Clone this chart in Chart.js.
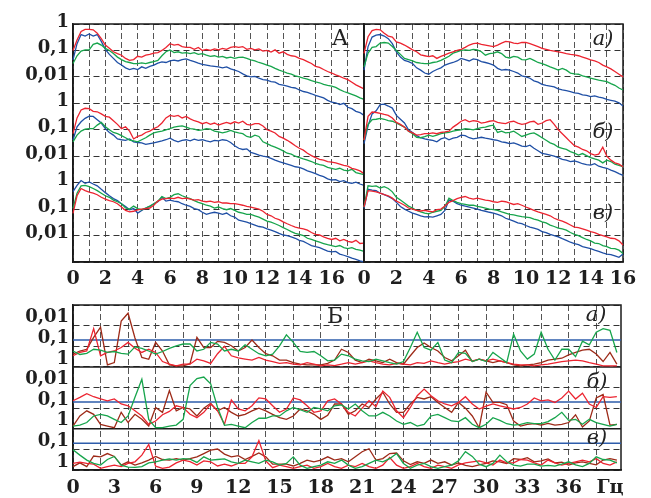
<!DOCTYPE html>
<html lang="ru">
<head>
<meta charset="utf-8">
<title>Спектры и уровни значимости</title>
<script src="https://cdn.jsdelivr.net/npm/chart.js@4.4.1/dist/chart.umd.min.js"></script>
<style>
  html, body { margin: 0; padding: 0; background: #fff; }
  #fig { position: relative; width: 651px; height: 498px; overflow: hidden; }
  #fig canvas { position: absolute; }
</style>
</head>
<body>
<div id="fig">
  <canvas id="topLeft" width="372" height="296" style="left:0;top:0"></canvas>
  <canvas id="topRight" width="321" height="296" style="left:330px;top:0"></canvas>
  <canvas id="bottom" width="651" height="208" style="left:0;top:290px"></canvas>
</div>
<script>
// frequencies, Hz
const freqTop = [0,0.25,0.5,0.75,1,1.25,1.5,1.75,2,2.25,2.5,2.75,3,3.25,3.5,3.75,4,4.25,4.5,4.75,5,5.25,5.5,5.75,6,6.25,6.5,6.75,7,7.25,7.5,7.75,8,8.25,8.5,8.75,9,9.25,9.5,9.75,10,10.25,10.5,10.75,11,11.25,11.5,11.75,12,12.25,12.5,12.75,13,13.25,13.5,13.75,14,14.25,14.5,14.75,15,15.25,15.5,15.75,16,16.25,16.5,16.75,17,17.25,17.5,17.75,18];
const freqBottom = [0,0.5,1,1.5,2,2.5,3,3.5,4,4.5,5,5.5,6,6.5,7,7.5,8,8.5,9,9.5,10,10.5,11,11.5,12,12.5,13,13.5,14,14.5,15,15.5,16,16.5,17,17.5,18,18.5,19,19.5,20,20.5,21,21.5,22,22.5,23,23.5,24,24.5,25,25.5,26,26.5,27,27.5,28,28.5,29,29.5,30,30.5,31,31.5,32,32.5,33,33.5,34,34.5,35,35.5,36,36.5,37,37.5,38,38.5,39,39.5];

// tick labels
const topXTickValues = [0, 2, 4, 6, 8, 10, 12, 14, 16];
const topXTickLabels = ['0', '2', '4', '6', '8', '10', '12', '14', '16'];
const topYTickValues = [1, 0.1, 0.01];
const topYTickLabels = ['1', '0,1', '0,01'];
const bottomXTickValues = [0, 3, 6, 9, 12, 15, 18, 21, 24, 27, 30, 33, 36, 39];
const bottomXTickLabels = ['0', '3', '6', '9', '12', '15', '18', '21', '24', '27', '30', '33', '36', 'Гц'];
const bottomXGridValues = [0, 2, 4, 6, 8, 10, 12, 14, 16, 18, 20, 22, 24, 26, 28, 30, 32, 34, 36, 38];
const bottomYTickValues = [0.01, 0.1, 1];
const bottomYTickLabels = ['0,01', '0,1', '1'];

// significance level line (Б)
const sigFreq = [0, 39.8];
const sigLevel = [0.05, 0.05];

// А, left column, rows а) б) в)
const redL1 = [0.1,0.25,0.52,0.63,0.63,0.6,0.45,0.28,0.16,0.12,0.089,0.076,0.066,0.05,0.042,0.045,0.06,0.056,0.066,0.071,0.079,0.083,0.1,0.13,0.18,0.16,0.17,0.14,0.13,0.13,0.11,0.13,0.1,0.11,0.1,0.115,0.105,0.12,0.11,0.13,0.14,0.13,0.14,0.11,0.12,0.105,0.115,0.095,0.1,0.087,0.105,0.079,0.089,0.071,0.063,0.06,0.05,0.045,0.038,0.032,0.025,0.023,0.019,0.016,0.014,0.012,0.0105,0.0089,0.0079,0.0063,0.005,0.0042,0.0035];
const greenL1 = [0.032,0.063,0.095,0.105,0.105,0.17,0.19,0.16,0.12,0.1,0.076,0.056,0.045,0.038,0.035,0.032,0.032,0.034,0.032,0.035,0.038,0.042,0.063,0.089,0.105,0.083,0.089,0.079,0.083,0.076,0.083,0.071,0.076,0.066,0.06,0.063,0.056,0.06,0.052,0.056,0.05,0.055,0.056,0.05,0.044,0.04,0.035,0.032,0.028,0.025,0.021,0.018,0.016,0.014,0.0126,0.011,0.01,0.0089,0.0083,0.0072,0.0065,0.006,0.0052,0.0048,0.0045,0.004,0.0033,0.0028,0.0025,0.0022,0.0019,0.0016,0.0014];
const blueL1 = [0.044,0.18,0.4,0.35,0.42,0.35,0.4,0.22,0.11,0.071,0.05,0.035,0.028,0.022,0.019,0.021,0.019,0.024,0.021,0.025,0.028,0.033,0.037,0.035,0.04,0.043,0.04,0.045,0.048,0.042,0.038,0.033,0.03,0.028,0.026,0.025,0.024,0.022,0.024,0.02,0.018,0.016,0.013,0.011,0.01,0.0105,0.0089,0.0079,0.0076,0.0066,0.0063,0.0052,0.0049,0.0045,0.004,0.0038,0.0032,0.0028,0.0026,0.0023,0.002,0.0018,0.0016,0.0013,0.0011,0.00105,0.00089,0.001,0.00071,0.00063,0.0005,0.00045,0.00035];
const redL2 = [0.072,0.28,0.56,0.65,0.63,0.5,0.48,0.4,0.32,0.3,0.22,0.16,0.11,0.13,0.089,0.045,0.056,0.063,0.079,0.089,0.11,0.13,0.18,0.28,0.35,0.32,0.35,0.28,0.32,0.26,0.22,0.2,0.17,0.19,0.16,0.18,0.15,0.17,0.19,0.17,0.2,0.18,0.21,0.16,0.15,0.17,0.17,0.14,0.1,0.089,0.076,0.056,0.048,0.04,0.032,0.025,0.02,0.017,0.013,0.0105,0.0089,0.0076,0.0071,0.0063,0.006,0.0056,0.005,0.0045,0.0042,0.0035,0.0032,0.0028,0.0022];
const greenL2 = [0.035,0.063,0.089,0.105,0.11,0.11,0.15,0.19,0.13,0.1,0.079,0.071,0.06,0.05,0.041,0.038,0.035,0.042,0.05,0.063,0.076,0.083,0.089,0.1,0.11,0.126,0.135,0.14,0.126,0.11,0.105,0.095,0.1,0.11,0.105,0.089,0.083,0.076,0.083,0.095,0.083,0.076,0.071,0.056,0.052,0.063,0.056,0.035,0.03,0.025,0.022,0.019,0.016,0.013,0.012,0.01,0.0089,0.0079,0.0071,0.0063,0.0054,0.0048,0.0045,0.0038,0.0035,0.0032,0.0035,0.003,0.0028,0.0032,0.0024,0.0022,0.002];
const blueL2 = [0.041,0.13,0.2,0.27,0.33,0.32,0.24,0.18,0.11,0.079,0.063,0.045,0.042,0.04,0.045,0.035,0.033,0.032,0.028,0.03,0.032,0.035,0.038,0.042,0.048,0.04,0.035,0.04,0.042,0.038,0.044,0.04,0.042,0.038,0.035,0.04,0.038,0.042,0.04,0.033,0.025,0.02,0.018,0.019,0.014,0.0126,0.011,0.01,0.0095,0.0083,0.0071,0.0063,0.0056,0.005,0.0045,0.004,0.0038,0.0033,0.0028,0.0025,0.0022,0.0019,0.0017,0.0014,0.00126,0.0013,0.0011,0.0012,0.001,0.00095,0.00105,0.00089,0.00079];
const redL3 = [0.069,0.32,0.6,0.5,0.44,0.4,0.35,0.28,0.24,0.21,0.19,0.16,0.12,0.089,0.079,0.083,0.093,0.1,0.105,0.11,0.14,0.2,0.24,0.25,0.26,0.25,0.28,0.25,0.26,0.24,0.22,0.23,0.2,0.19,0.2,0.18,0.19,0.17,0.17,0.16,0.16,0.15,0.14,0.126,0.12,0.11,0.1,0.083,0.063,0.056,0.045,0.04,0.033,0.028,0.024,0.021,0.019,0.018,0.016,0.013,0.011,0.0105,0.0089,0.0079,0.0071,0.0079,0.0063,0.0071,0.006,0.0056,0.0066,0.005,0.0052];
const greenL3 = [0.107,0.4,0.76,0.79,0.71,0.6,0.5,0.4,0.32,0.28,0.22,0.19,0.16,0.11,0.1,0.13,0.105,0.095,0.11,0.13,0.16,0.2,0.3,0.25,0.28,0.35,0.38,0.32,0.28,0.25,0.21,0.18,0.16,0.14,0.13,0.11,0.12,0.105,0.095,0.105,0.089,0.076,0.071,0.063,0.063,0.056,0.05,0.042,0.035,0.032,0.028,0.024,0.02,0.017,0.014,0.012,0.011,0.01,0.0079,0.0071,0.0063,0.0056,0.005,0.0045,0.0042,0.0038,0.0042,0.0035,0.0032,0.0035,0.003,0.0028,0.0025];
const blueL3 = [0.46,0.79,1.2,0.95,1.07,0.89,0.76,0.56,0.42,0.32,0.25,0.21,0.16,0.126,0.095,0.105,0.071,0.089,0.11,0.126,0.16,0.19,0.28,0.2,0.22,0.2,0.19,0.16,0.14,0.126,0.105,0.095,0.076,0.063,0.071,0.076,0.071,0.063,0.071,0.056,0.05,0.038,0.035,0.032,0.028,0.025,0.022,0.021,0.018,0.016,0.014,0.012,0.0105,0.01,0.0089,0.0079,0.0066,0.006,0.005,0.0042,0.0038,0.0035,0.003,0.0026,0.0024,0.0025,0.002,0.0018,0.0016,0.0014,0.00126,0.0011,0.001];

// А, right column, rows а) б) в)
const redR1 = [0.078,0.33,0.56,0.63,0.6,0.45,0.35,0.32,0.21,0.19,0.16,0.13,0.105,0.089,0.068,0.063,0.058,0.063,0.05,0.06,0.068,0.079,0.089,0.1,0.11,0.13,0.16,0.18,0.19,0.17,0.16,0.15,0.14,0.16,0.19,0.22,0.21,0.19,0.18,0.2,0.2,0.18,0.16,0.14,0.12,0.11,0.1,0.095,0.089,0.083,0.076,0.071,0.068,0.063,0.056,0.05,0.044,0.04,0.035,0.028,0.024,0.02,0.016,0.0126,0.01];
const greenR1 = [0.024,0.079,0.13,0.14,0.19,0.2,0.19,0.14,0.1,0.071,0.05,0.045,0.04,0.035,0.033,0.032,0.032,0.035,0.037,0.042,0.05,0.06,0.079,0.089,0.1,0.105,0.1,0.11,0.105,0.089,0.066,0.076,0.079,0.089,0.076,0.056,0.052,0.06,0.056,0.045,0.044,0.05,0.042,0.035,0.032,0.028,0.024,0.021,0.018,0.021,0.018,0.014,0.013,0.0126,0.011,0.01,0.0089,0.0083,0.0076,0.0071,0.0066,0.0056,0.0048,0.0038,0.0032];
const blueR1 = [0.018,0.14,0.32,0.38,0.4,0.35,0.28,0.18,0.089,0.056,0.042,0.038,0.032,0.022,0.018,0.014,0.0126,0.016,0.019,0.022,0.028,0.032,0.035,0.04,0.05,0.045,0.04,0.048,0.045,0.038,0.035,0.032,0.028,0.021,0.018,0.019,0.018,0.016,0.014,0.011,0.01,0.0089,0.0071,0.0063,0.0052,0.0048,0.0045,0.0042,0.0035,0.0032,0.003,0.0028,0.0025,0.0024,0.0021,0.002,0.0018,0.0019,0.0017,0.0016,0.0014,0.0013,0.0012,0.00105,0.00079];
const redR2 = [0.041,0.32,0.47,0.45,0.42,0.38,0.35,0.28,0.19,0.16,0.126,0.089,0.076,0.063,0.066,0.071,0.071,0.076,0.071,0.079,0.083,0.089,0.126,0.16,0.21,0.24,0.2,0.22,0.21,0.18,0.19,0.21,0.22,0.19,0.18,0.17,0.2,0.21,0.18,0.16,0.17,0.2,0.21,0.16,0.18,0.22,0.24,0.16,0.1,0.071,0.05,0.035,0.025,0.022,0.018,0.016,0.0126,0.011,0.012,0.022,0.01,0.0071,0.0056,0.005,0.004];
const greenR2 = [0.041,0.16,0.24,0.25,0.27,0.25,0.22,0.21,0.18,0.15,0.126,0.089,0.071,0.052,0.05,0.055,0.063,0.056,0.063,0.071,0.076,0.079,0.089,0.095,0.1,0.11,0.105,0.1,0.11,0.12,0.126,0.14,0.15,0.079,0.089,0.076,0.079,0.089,0.071,0.056,0.063,0.071,0.076,0.063,0.05,0.04,0.032,0.028,0.022,0.02,0.018,0.015,0.013,0.011,0.0126,0.0105,0.0089,0.0079,0.0071,0.0056,0.0071,0.0063,0.005,0.0045,0.004];
const blueR2 = [0.03,0.14,0.4,0.52,0.89,0.93,0.79,0.66,0.35,0.25,0.18,0.1,0.079,0.06,0.05,0.045,0.042,0.04,0.035,0.045,0.05,0.042,0.048,0.052,0.063,0.06,0.05,0.045,0.048,0.052,0.048,0.045,0.042,0.04,0.035,0.033,0.03,0.032,0.028,0.024,0.023,0.026,0.02,0.016,0.0129,0.012,0.011,0.01,0.0089,0.0076,0.0071,0.0063,0.0066,0.006,0.0052,0.0048,0.0046,0.0052,0.0042,0.0038,0.0035,0.003,0.0026,0.0022,0.0019];
const redR3 = [0.12,0.5,0.48,0.45,0.4,0.35,0.32,0.26,0.2,0.17,0.14,0.11,0.1,0.089,0.085,0.089,0.083,0.079,0.095,0.1,0.13,0.18,0.21,0.25,0.28,0.3,0.26,0.24,0.26,0.24,0.22,0.21,0.19,0.18,0.2,0.19,0.17,0.15,0.16,0.14,0.12,0.105,0.089,0.079,0.071,0.063,0.056,0.045,0.039,0.035,0.03,0.025,0.021,0.02,0.018,0.016,0.014,0.013,0.011,0.01,0.0089,0.0079,0.0076,0.0063,0.0044];
const greenR3 = [0.12,0.76,0.72,0.76,0.63,0.71,0.6,0.45,0.28,0.22,0.17,0.13,0.11,0.089,0.079,0.071,0.066,0.076,0.083,0.089,0.126,0.26,0.21,0.18,0.16,0.15,0.14,0.14,0.126,0.12,0.11,0.1,0.095,0.089,0.079,0.071,0.063,0.06,0.056,0.052,0.05,0.048,0.042,0.038,0.033,0.03,0.025,0.022,0.019,0.018,0.016,0.013,0.011,0.01,0.0083,0.0071,0.0063,0.0052,0.005,0.0042,0.0038,0.0033,0.0032,0.0028,0.0021];
const blueR3 = [0.107,0.56,0.52,0.5,0.4,0.35,0.3,0.25,0.18,0.126,0.1,0.083,0.071,0.063,0.056,0.051,0.052,0.05,0.056,0.063,0.089,0.22,0.2,0.16,0.14,0.13,0.12,0.11,0.1,0.089,0.083,0.076,0.071,0.063,0.056,0.045,0.04,0.035,0.03,0.028,0.024,0.021,0.019,0.017,0.014,0.013,0.011,0.01,0.0089,0.0076,0.0066,0.0056,0.005,0.0045,0.0038,0.0035,0.0032,0.0028,0.0025,0.0022,0.002,0.0019,0.0017,0.0015,0.002];

// Б, p-values, rows а) б) в)
const redB1 = [0.29,0.2,0.17,0.014,0.29,0.2,0.17,0.115,0.065,0.126,0.2,0.14,0.2,0.55,0.74,0.89,0.74,0.74,0.42,0.51,0.68,0.23,0.1,0.29,0.37,0.42,0.47,0.35,0.47,0.55,0.68,0.62,0.74,0.8,0.62,0.74,0.89,0.8,0.86,0.74,0.62,0.74,0.62,0.51,0.62,0.74,0.8,0.68,0.74,0.8,0.62,0.68,0.51,0.62,0.74,0.62,0.55,0.42,0.51,0.42,0.51,0.42,0.51,0.62,0.74,0.8,0.8,0.89,0.8,0.74,0.64,0.55,0.51,0.47,0.51,0.62,0.74,0.89,0.89,0.89];
const brownB1 = [0.24,0.17,0.14,0.037,0.012,0.8,0.62,0.006,0.0025,0.04,0.35,0.43,0.065,0.17,0.8,0.89,0.89,0.7,0.037,0.115,0.115,0.058,0.065,0.095,0.17,0.115,0.05,0.115,0.23,0.29,0.47,0.47,0.62,0.74,0.8,0.8,0.8,0.68,0.47,0.14,0.2,0.47,0.62,0.42,0.51,0.62,0.42,0.62,0.74,0.29,0.115,0.07,0.115,0.17,0.35,0.51,0.29,0.155,0.55,0.42,0.51,0.62,0.51,0.62,0.8,0.89,0.8,0.74,0.62,0.47,0.42,0.38,0.26,0.2,0.155,0.14,0.24,0.55,0.2,0.74];
const greenB1 = [0.17,0.25,0.22,0.14,0.155,0.2,0.18,0.22,0.24,0.107,0.126,0.17,0.24,0.18,0.126,0.095,0.078,0.078,0.17,0.14,0.065,0.078,0.17,0.14,0.17,0.085,0.14,0.23,0.29,0.24,0.095,0.028,0.065,0.18,0.2,0.18,0.29,0.51,0.47,0.24,0.29,0.42,0.51,0.55,0.42,0.51,0.62,0.74,0.55,0.115,0.021,0.115,0.155,0.065,0.47,0.62,0.2,0.22,0.55,0.42,0.55,0.2,0.35,0.62,0.026,0.17,0.42,0.24,0.021,0.14,0.47,0.14,0.14,0.32,0.057,0.085,0.021,0.014,0.017,0.2];
const redB2 = [0.044,0.03,0.02,0.028,0.036,0.044,0.036,0.063,0.077,0.135,0.24,0.61,0.42,0.21,0.145,0.077,0.093,0.2,0.29,0.16,0.063,0.135,0.61,0.04,0.11,0.135,0.077,0.032,0.036,0.077,0.16,0.11,0.032,0.04,0.077,0.16,0.135,0.044,0.036,0.063,0.16,0.24,0.1,0.044,0.085,0.015,0.03,0.135,0.29,0.093,0.025,0.012,0.025,0.044,0.063,0.077,0.053,0.028,0.063,0.11,0.08,0.063,0.077,0.093,0.11,0.093,0.063,0.032,0.044,0.04,0.053,0.032,0.015,0.036,0.019,0.063,0.093,0.028,0.03,0.028];
const brownB2 = [0.74,0.24,0.135,0.2,0.61,0.74,0.89,0.16,0.5,0.2,0.35,0.74,0.093,0.16,0.014,0.135,0.093,0.11,0.24,0.1,0.058,0.135,0.093,0.16,0.24,0.2,0.135,0.1,0.135,0.2,0.29,0.35,0.24,0.11,0.135,0.2,0.35,0.22,0.063,0.063,0.2,0.135,0.063,0.093,0.036,0.017,0.063,0.16,0.16,0.063,0.03,0.036,0.028,0.053,0.093,0.16,0.053,0.1,0.24,0.89,0.017,0.053,0.053,0.068,0.42,0.74,0.61,0.57,0.66,0.55,0.66,0.61,0.5,0.21,0.83,0.42,0.032,0.022,0.66,0.61];
const greenB2 = [0.74,0.66,0.5,0.24,0.2,0.24,0.35,0.5,0.24,0.03,0.004,0.35,0.89,0.89,0.74,0.66,0.35,0.008,0.0037,0.0031,0.0066,0.093,0.68,0.61,0.74,0.89,0.5,0.31,0.31,0.24,0.24,0.135,0.093,0.12,0.16,0.093,0.11,0.135,0.077,0.07,0.11,0.063,0.135,0.24,0.24,0.16,0.24,0.42,0.61,0.5,0.74,0.61,0.24,0.2,0.29,0.42,0.45,0.29,0.61,0.89,0.61,0.29,0.39,0.57,0.66,0.61,0.5,0.57,0.57,0.45,0.29,0.16,0.39,0.35,0.61,0.35,0.5,0.61,0.74,0.61];
const redB3 = [0.48,0.42,0.48,0.52,0.83,0.69,0.58,0.69,0.48,0.4,0.19,0.058,0.65,0.83,0.72,0.45,0.33,0.39,0.58,0.36,0.4,0.64,0.52,0.64,0.48,0.48,0.23,0.037,0.36,0.77,0.58,0.69,0.83,0.69,0.58,0.83,0.69,0.48,0.69,0.83,0.58,0.69,0.48,0.69,0.83,0.58,0.25,0.58,0.83,0.69,0.48,0.69,0.83,0.58,0.69,0.83,0.56,0.45,0.4,0.36,0.45,0.58,0.33,0.45,0.45,0.31,0.33,0.45,0.58,0.33,0.45,0.58,0.48,0.4,0.33,0.4,0.28,0.48,0.58,0.4];
const brownB3 = [0.69,0.45,0.69,0.21,0.23,0.16,0.22,0.58,0.4,0.58,0.45,0.33,0.22,0.31,0.33,0.28,0.33,0.28,0.23,0.16,0.11,0.096,0.17,0.23,0.2,0.31,0.22,0.15,0.23,0.52,0.52,0.52,0.64,0.48,0.33,0.4,0.33,0.23,0.33,0.28,0.4,0.23,0.13,0.093,0.33,0.28,0.16,0.15,0.36,0.55,0.4,0.48,0.33,0.48,0.4,0.58,0.45,0.6,0.69,0.56,0.48,0.36,0.4,0.48,0.28,0.31,0.25,0.4,0.36,0.29,0.45,0.42,0.58,0.45,0.4,0.48,0.56,0.33,0.28,0.33];
const greenB3 = [0.104,0.19,0.33,0.48,0.58,0.31,0.22,0.58,0.72,0.75,0.69,0.45,0.4,0.33,0.29,0.33,0.28,0.3,0.43,0.23,0.33,0.31,0.29,0.4,0.48,0.33,0.4,0.48,0.33,0.4,0.58,0.48,0.23,0.58,0.83,0.69,0.58,0.4,0.48,0.33,0.58,0.83,0.69,0.48,0.33,0.4,0.28,0.16,0.48,0.83,0.58,0.48,0.69,0.83,0.69,0.58,0.36,0.13,0.22,0.52,0.69,0.48,0.19,0.4,0.58,0.65,0.52,0.52,0.65,0.6,0.65,0.52,0.4,0.56,0.69,0.48,0.23,0.31,0.33,0.45];

Chart.defaults.font.family = '"DejaVu Serif", serif';
Chart.defaults.color = '#1e1e1e';

const RED = '#ec2430', GREEN = '#17a54c', BLUE = '#1f4fa5', BROWN = '#9d2a18', SIG = '#2d5cab';
const INK = '#1a1a1a';
const tickFontY = { size: 18, weight: 'bold' };
const tickFontX = { size: 19, weight: 'bold' };

function pts(freq, vals) { return vals.map((v, i) => ({ x: freq[i], y: v })); }
function line(freq, vals, color, axis) {
  return { data: pts(freq, vals), yAxisID: axis, borderColor: color, borderWidth: 1.3,
           pointRadius: 0, tension: 0, fill: false, clip: false };
}
function labeler(values, labels) {
  return v => { const i = values.indexOf(v); return i < 0 ? '' : labels[i]; };
}

// frame, solid row separators and the panel letters
const notes = {
  id: 'notes',
  beforeDatasetsDraw(chart, args, opts) {
    const { ctx, chartArea: a } = chart;
    ctx.save();
    ctx.strokeStyle = INK;
    ctx.lineWidth = 1.5;
    (opts.rowLines || []).forEach(id => {
      const y = chart.scales[id].top;
      ctx.beginPath(); ctx.moveTo(a.left, y); ctx.lineTo(a.right, y); ctx.stroke();
    });
    ctx.strokeRect(a.left, a.top, a.right - a.left, a.bottom - a.top);
    ctx.restore();
  },
  afterDraw(chart, args, opts) {
    const ctx = chart.ctx;
    ctx.save();
    ctx.fillStyle = '#222';
    ctx.textAlign = 'center';
    ctx.textBaseline = 'middle';
    (opts.texts || []).forEach(t => { ctx.font = t.font; ctx.fillText(t.text, t.x, t.y); });
    ctx.restore();
  }
};

function topChart(canvasId, xMax, rows, withLabels, padding, texts) {
  const ids = ['r1', 'r2', 'r3'];
  const scales = {
    x: {
      type: 'linear', min: 0, max: xMax,
      ticks: { stepSize: 1, autoSkip: false, maxRotation: 0, padding: 6, font: tickFontX,
               callback: labeler(topXTickValues, topXTickLabels) },
      grid: { color: '#555', lineWidth: 1, drawTicks: false },
      border: { color: INK, width: 1.5, dash: [6, 3] },
      afterFit: s => { s.height = 34; }
    }
  };
  ids.forEach((id, r) => {
    scales[id] = {
      type: 'logarithmic', position: 'left', stack: 'rows', stackWeight: 1, weight: 3 - r,
      min: 0.001, max: 1,
      afterBuildTicks: s => { s.ticks = [0.001].concat(topYTickValues).map(v => ({ value: v })); },
      ticks: { display: withLabels, autoSkip: false, padding: 4, labelOffset: -2, font: tickFontY,
               callback: labeler(topYTickValues, topYTickLabels) },
      grid: { color: '#333', lineWidth: 1, drawTicks: false },
      border: { color: INK, width: 1.5, dash: [6, 4] },
      afterFit: s => { s.width = withLabels ? 73 : 0; }
    };
  });
  const datasets = [];
  rows.forEach((row, r) => {
    datasets.push(line(freqTop, row[0], RED, ids[r]));
    datasets.push(line(freqTop, row[1], GREEN, ids[r]));
    datasets.push(line(freqTop, row[2], BLUE, ids[r]));
  });
  return new Chart(document.getElementById(canvasId), {
    type: 'line',
    data: { datasets },
    options: {
      responsive: false, animation: false,
      layout: { padding },
      plugins: { legend: { display: false }, tooltip: { enabled: false }, notes: { texts } },
      scales
    },
    plugins: [notes]
  });
}

topChart('topLeft', 18,
  [[redL1, greenL1, blueL1], [redL2, greenL2, blueL2], [redL3, greenL3, blueL3]],
  true, { top: 24, right: 8, left: 0, bottom: 0 },
  [{ text: 'А', x: 340, y: 39, font: '22px "DejaVu Serif"' }]);

topChart('topRight', 16,
  [[redR1, greenR1, blueR1], [redR2, greenR2, blueR2], [redR3, greenR3, blueR3]],
  false, { top: 24, right: 28, left: 34, bottom: 0 },
  [{ text: 'а)', x: 273, y: 40, font: 'italic 21px "DejaVu Serif"' },
   { text: 'б)', x: 273, y: 133, font: 'italic 21px "DejaVu Serif"' },
   { text: 'в)', x: 273, y: 214, font: 'italic 21px "DejaVu Serif"' }]);

// Б
(function () {
  const rows = [
    { id: 'b1', stackWeight: 3, min: 0.001, series: [redB1, brownB1, greenB1] },
    { id: 'b2', stackWeight: 3, min: 0.001, series: [redB2, brownB2, greenB2] },
    { id: 'b3', stackWeight: 2, min: 0.01, series: [redB3, brownB3, greenB3] }
  ];
  const scales = {
    x: {
      type: 'linear', min: 0, max: 39.8,
      afterBuildTicks: s => {
        const vals = Array.from(new Set(bottomXGridValues.concat(bottomXTickValues))).sort((a, b) => a - b);
        s.ticks = vals.map(v => ({ value: v }));
      },
      ticks: { autoSkip: false, maxRotation: 0, padding: 7, font: tickFontX,
               callback: labeler(bottomXTickValues, bottomXTickLabels) },
      grid: { color: c => (c.tick && bottomXGridValues.includes(c.tick.value)) ? '#555' : 'rgba(0,0,0,0)',
              lineWidth: 1, drawTicks: false },
      border: { color: INK, width: 1.5, dash: [6, 3] },
      afterFit: s => { s.height = 28; }
    }
  };
  const datasets = [];
  rows.forEach((row, r) => {
    scales[row.id] = {
      type: 'logarithmic', position: 'left', reverse: true, stack: 'rows',
      stackWeight: row.stackWeight, weight: 3 - r, min: row.min, max: 1,
      afterBuildTicks: s => {
        s.ticks = [row.min].concat(bottomYTickValues.filter(v => v > row.min)).map(v => ({ value: v }));
      },
      ticks: { autoSkip: false, padding: 4, labelOffset: -8, font: tickFontY,
               callback: v => v === row.min ? '' : labeler(bottomYTickValues, bottomYTickLabels)(v) },
      grid: { color: '#333', lineWidth: 1, drawTicks: false },
      border: { color: INK, width: 1.5, dash: [6, 4] },
      afterFit: s => { s.width = 73; }
    };
    datasets.push(line(freqBottom, row.series[2], GREEN, row.id));
    datasets.push(line(freqBottom, row.series[0], RED, row.id));
    datasets.push(line(freqBottom, row.series[1], BROWN, row.id));
    const sig = line(sigFreq, sigLevel, SIG, row.id);
    sig.borderWidth = 1.5;
    datasets.push(sig);
  });
  new Chart(document.getElementById('bottom'), {
    type: 'line',
    data: { datasets },
    options: {
      responsive: false, animation: false,
      layout: { padding: { top: 15, right: 30, left: 0, bottom: 0 } },
      plugins: {
        legend: { display: false }, tooltip: { enabled: false },
        notes: {
          rowLines: ['b2', 'b3'],
          texts: [
            { text: 'Б', x: 335, y: 27, font: '22px "DejaVu Serif"' },
            { text: 'а)', x: 596, y: 26, font: 'italic 21px "DejaVu Serif"' },
            { text: 'б)', x: 597, y: 93, font: 'italic 21px "DejaVu Serif"' },
            { text: 'в)', x: 597, y: 149, font: 'italic 21px "DejaVu Serif"' }
          ]
        }
      },
      scales
    },
    plugins: [notes]
  });
})();
</script>
</body>
</html>
